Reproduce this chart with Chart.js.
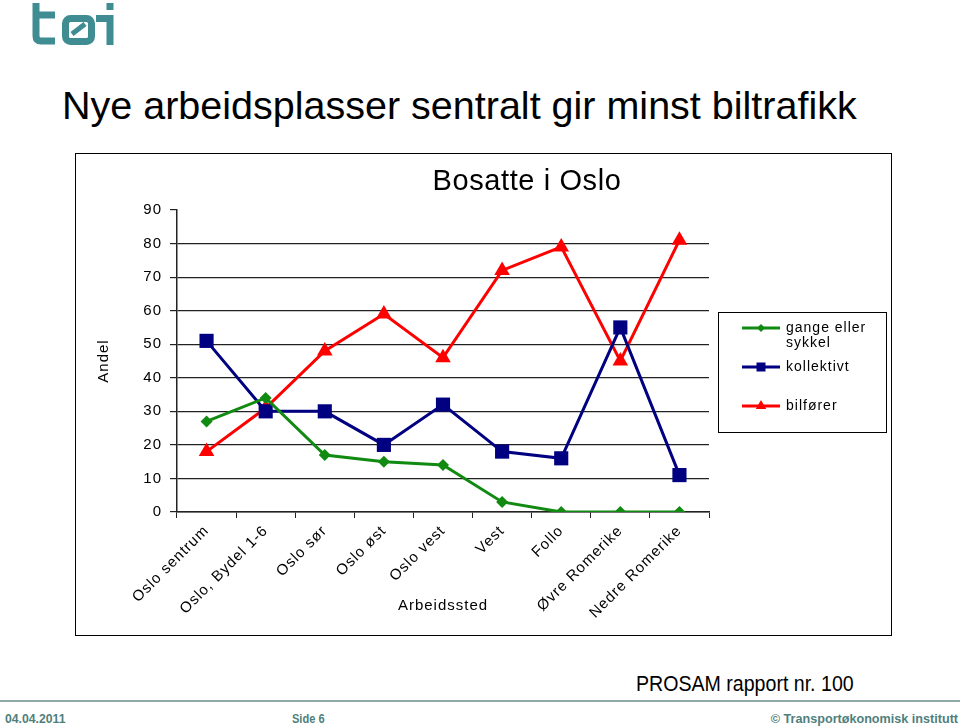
<!DOCTYPE html>
<html>
<head>
<meta charset="utf-8">
<script src="https://cdn.jsdelivr.net/npm/chart.js@4/dist/chart.umd.min.js"></script>
<style>
  html, body { margin: 0; padding: 0; background: #fff; }
  body { width: 960px; height: 727px; position: relative; overflow: hidden; font-family: "Liberation Sans", Arial, sans-serif; }
  #logo { position: absolute; left: 28px; top: 0; }
  #heading { position: absolute; left: 62px; top: 82px; font-size: 39.5px; color: #000; white-space: nowrap; line-height: 46px; }
  #chartBox { position: absolute; left: 75px; top: 153px; width: 815px; height: 481px; border: 1px solid #000; }
  #chartBox canvas { display: block; }
  #source { position: absolute; left: 636px; top: 671px; font-size: 22px; white-space: nowrap; transform: scaleX(0.89); transform-origin: left top; }
  #rule { position: absolute; left: 0; top: 700px; width: 960px; height: 1.5px; background: #8fa9a6; }
  .foot { position: absolute; top: 711px; font-size: 13px; font-weight: bold; color: #4f7f7c; white-space: nowrap; }
</style>
</head>
<body>
<svg id="logo" width="100" height="50" viewBox="0 0 100 50">
  <g fill="none" stroke="#3f8d93" stroke-width="7" stroke-linecap="butt">
    <path d="M8 3 V36 Q8 41 13 41 H27"/>
    <path d="M5 15 H27"/>
    <rect x="37.5" y="18.5" width="26" height="23" rx="5"/>
    <path d="M44 34 L57 24" stroke-width="5"/>
    <path d="M68 18.5 H82 V45"/>
  </g>
  <rect x="78.5" y="3" width="7" height="7" fill="#3f8d93"/>
</svg>
<div id="heading">Nye arbeidsplasser sentralt gir minst biltrafikk</div>
<div id="chartBox"><canvas id="andelChart" width="815" height="481"></canvas></div>
<div id="source">PROSAM rapport nr. 100</div>
<div id="rule"></div>
<div class="foot" style="left:5px; transform: scaleX(0.94); transform-origin:left top;">04.04.2011</div>
<div class="foot" style="left:292px; transform: scaleX(0.85); transform-origin:left top;">Side 6</div>
<div class="foot" style="right:2px; transform: scaleX(0.97); transform-origin:right top;">© Transportøkonomisk institutt</div>

<script>
'use strict';

// --- DATA ---
const categories = ['Oslo sentrum', 'Oslo, Bydel 1-6', 'Oslo sør', 'Oslo øst', 'Oslo vest', 'Vest', 'Follo', 'Øvre Romerike', 'Nedre Romerike'];
const gangeSykkel = [27, 34, 17, 15, 14, 3, 0, 0, 0];
const kollektivt = [51, 30, 30, 20, 32, 18, 16, 55, 11];
const bilforer = [18, 31, 48, 59, 46, 72, 79, 45, 81];
const yTicks = [0, 10, 20, 30, 40, 50, 60, 70, 80, 90];

const FONT = '"Liberation Sans", Arial, sans-serif';
const GREEN = '#118a11';
const NAVY = '#000080';
const RED = '#ff0000';

// letter spacing like the original export
const spacingPlugin = {
    id: 'spacing',
    beforeLayout(chart) { chart.ctx.letterSpacing = '1px'; },
    beforeDraw(chart) { chart.ctx.letterSpacing = '1px'; }
};

// chart title (not centered on the plot in the original)
const titlePlugin = {
    id: 'bosatte',
    afterDraw(chart) {
        const ctx = chart.ctx;
        ctx.save();
        ctx.letterSpacing = '0.6px';
        ctx.font = '29px ' + FONT;
        ctx.fillStyle = '#000';
        ctx.textAlign = 'center';
        ctx.textBaseline = 'middle';
        ctx.fillText('Bosatte i Oslo', 451, 28);
        ctx.restore();
    }
};

function drawMarker(ctx, style, x, y, r, color) {
    ctx.fillStyle = color;
    ctx.beginPath();
    if (style === 'rectRot') {
        ctx.moveTo(x - r, y); ctx.lineTo(x, y - r); ctx.lineTo(x + r, y); ctx.lineTo(x, y + r);
    } else if (style === 'rect') {
        ctx.rect(x - r, y - r, 2 * r, 2 * r);
    } else {
        ctx.moveTo(x, y - r); ctx.lineTo(x + r * 0.87, y + r * 0.5); ctx.lineTo(x - r * 0.87, y + r * 0.5);
    }
    ctx.closePath();
    ctx.fill();
}

// boxed legend at the right
const legendPlugin = {
    id: 'boxLegend',
    afterDraw(chart) {
        const ctx = chart.ctx;
        const box = { x: 642, y: 158, w: 168, h: 120 };
        const rows = [
            { lines: ['gange eller', 'sykkel'], y: 174, r: 4 },
            { lines: ['kollektivt'], y: 213, r: 4.5 },
            { lines: ['bilfører'], y: 252, r: 6 }
        ];
        ctx.save();
        ctx.letterSpacing = '1px';
        ctx.strokeStyle = '#000';
        ctx.lineWidth = 1;
        ctx.strokeRect(box.x + 0.5, box.y + 0.5, box.w, box.h);
        chart.data.datasets.forEach((ds, i) => {
            const row = rows[i];
            ctx.strokeStyle = ds.borderColor;
            ctx.lineWidth = 3;
            ctx.beginPath();
            ctx.moveTo(666, row.y);
            ctx.lineTo(704, row.y);
            ctx.stroke();
            drawMarker(ctx, ds.pointStyle, 685, row.y, row.r, ds.borderColor);
            ctx.fillStyle = '#000';
            ctx.font = '14px ' + FONT;
            ctx.textAlign = 'left';
            ctx.textBaseline = 'middle';
            row.lines.forEach((t, k) => ctx.fillText(t, 710, row.y + k * 15));
        });
        ctx.restore();
    }
};

const ctx = document.getElementById('andelChart').getContext('2d');
new Chart(ctx, {
    type: 'line',
    data: {
        labels: categories,
        datasets: [
            { label: 'gange eller sykkel', data: gangeSykkel, borderColor: GREEN, backgroundColor: GREEN, pointStyle: 'rectRot', pointRadius: 6 },
            { label: 'kollektivt', data: kollektivt, borderColor: NAVY, backgroundColor: NAVY, pointStyle: 'rect', pointRadius: 10 },
            { label: 'bilfører', data: bilforer, borderColor: RED, backgroundColor: RED, pointStyle: 'triangle', pointRadius: 9 }
        ].map(d => Object.assign({ borderWidth: 3, tension: 0, fill: false, pointBorderWidth: 0, pointHoverRadius: d.pointRadius }, d))
    },
    options: {
        responsive: false,
        animation: false,
        events: [],
        layout: { padding: { left: 15, right: 182, top: 56, bottom: 16 } },
        plugins: { legend: { display: false }, title: { display: false }, tooltip: { enabled: false } },
        scales: {
            x: {
                offset: true,
                afterFit(scale) { scale.height = 107; },
                grid: { offset: true, drawOnChartArea: false, drawTicks: true, tickLength: 6, color: '#222', lineWidth: 1 },
                border: { display: true, color: '#222', width: 1.5 },
                ticks: { color: '#000', font: { family: FONT, size: 15 }, minRotation: 45, maxRotation: 45, padding: 4, autoSkip: false },
                title: { display: true, text: 'Arbeidssted', color: '#000', font: { family: FONT, size: 15 }, padding: 4 }
            },
            y: {
                min: yTicks[0],
                max: yTicks[yTicks.length - 1],
                afterFit(scale) { scale.width = 86; },
                afterBuildTicks(scale) { scale.ticks = yTicks.map(v => ({ value: v })); },
                grid: {
                    color: c => (c.tick && c.tick.value === 90) ? 'rgba(0,0,0,0)' : '#222',
                    tickColor: '#222',
                    tickLength: 7,
                    lineWidth: 1.2
                },
                border: { display: true, color: '#222', width: 1.5 },
                ticks: { color: '#000', font: { family: FONT, size: 15 }, padding: 8 },
                title: { display: true, text: 'Andel', color: '#000', font: { family: FONT, size: 15 }, padding: 4 }
            }
        }
    },
    plugins: [spacingPlugin, titlePlugin, legendPlugin]
});
</script>
</body>
</html>
